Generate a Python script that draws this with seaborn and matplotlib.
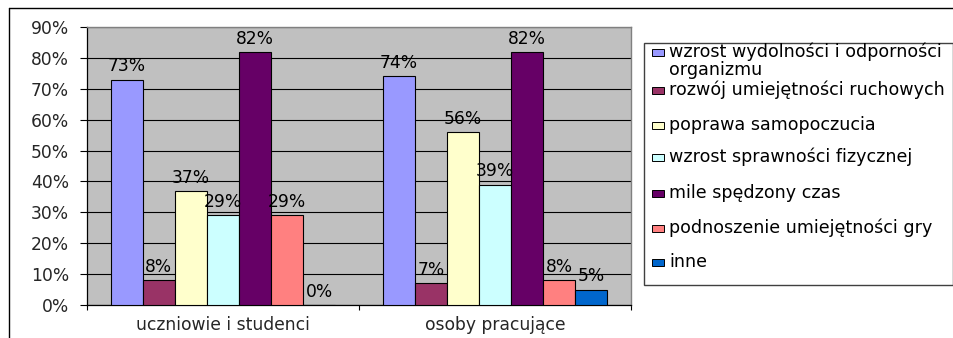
import matplotlib
matplotlib.use("Agg")
import matplotlib.pyplot as plt
from matplotlib.patches import Rectangle
from matplotlib.lines import Line2D
from matplotlib.ticker import FixedLocator, FuncFormatter
import seaborn as sns
import pandas as pd

groups = ["uczniowie i studenci", "osoby pracujące"]
series = [
    "wzrost wydolności i odporności\norganizmu",
    "rozwój umiejętności ruchowych",
    "poprawa samopoczucia",
    "wzrost sprawności fizycznej",
    "mile spędzony czas",
    "podnoszenie umiejętności gry",
    "inne",
]
students = [73, 8, 37, 29, 82, 29, 0]
workers = [74, 7, 56, 39, 82, 8, 5]
colors = ["#9999FF", "#993366", "#FFFFCC", "#CCFFFF", "#660066", "#FF8080", "#0066CC"]
yticks = [0, 10, 20, 30, 40, 50, 60, 70, 80, 90]

rows = []
for s, a, b in zip(series, students, workers):
    rows.append({"group": groups[0], "series": s, "value": a})
    rows.append({"group": groups[1], "series": s, "value": b})
df = pd.DataFrame(rows)

sns.set_style("white")
plt.rcParams["font.family"] = ["DejaVu Sans"]
FS = 12.3
FSL = 12.6

W, H = 954, 338
fig = plt.figure(figsize=(W / 100, H / 100), dpi=100)
ax = fig.add_axes([87 / W, 1 - 305 / H, (631 - 87) / W, (305 - 27) / H])
ax.set_facecolor("#C0C0C0")

sns.barplot(data=df, x="group", y="value", hue="series", hue_order=series,
            order=groups, palette=colors, saturation=1, width=0.825,
            edgecolor="black", linewidth=0.8, legend=False, ax=ax, zorder=3)

for cont, a, b in zip(ax.containers, students, workers):
    ax.bar_label(cont, labels=[f"{a}%", f"{b}%"], padding=3, fontsize=FS,
                 color="black", zorder=4)

ax.set_xlim(-0.5, 1.5)
ax.set_ylim(0, 90)
ax.yaxis.set_major_locator(FixedLocator(yticks))
ax.yaxis.set_major_formatter(FuncFormatter(lambda v, p: f"{int(v)}%"))
ax.grid(axis="y", color="black", linewidth=0.8, zorder=1)
ax.grid(axis="x", visible=False)
ax.set_axisbelow(True)
ax.set_xlabel("")
ax.set_ylabel("")

ax.tick_params(axis="y", which="major", length=5, width=0.8, direction="out",
               pad=8, labelsize=FS, color="black", left=True)
ax.tick_params(axis="x", which="major", length=0, pad=8, labelsize=FS)
ax.xaxis.set_minor_locator(FixedLocator([-0.5, 0.5, 1.5]))
ax.tick_params(axis="x", which="minor", length=3.5, width=0.8, direction="out",
               color="black", bottom=True)

for side in ["left", "bottom"]:
    ax.spines[side].set_color("black")
    ax.spines[side].set_linewidth(0.9)
for side in ["top", "right"]:
    ax.spines[side].set_color("#808080")
    ax.spines[side].set_linewidth(1.0)

# outer chart frame
fig.add_artist(Line2D([9 / W, 1], [1 - 8 / H, 1 - 8 / H], color="black", lw=1,
                      transform=fig.transFigure))
fig.add_artist(Line2D([9 / W, 9 / W], [0, 1 - 8 / H], color="black", lw=1,
                      transform=fig.transFigure))

# legend
lx0, lx1, ly0, ly1 = 644, 953, 43, 285
fig.add_artist(Rectangle((lx0 / W, 1 - ly1 / H), (lx1 - lx0) / W, (ly1 - ly0) / H,
                         transform=fig.transFigure, facecolor="white",
                         edgecolor="#404040", lw=1))
ycent = [52, 90, 125, 157, 193, 228, 262]
for lab, col, yc in zip(series, colors, ycent):
    fig.add_artist(Rectangle((652 / W, 1 - (yc + 3.5) / H), 12 / W, 7 / H,
                             transform=fig.transFigure, facecolor=col,
                             edgecolor="black", lw=0.7))
    lines = lab.split("\n")
    for i, ln in enumerate(lines):
        fig.text(669 / W, 1 - (yc + i * 18) / H, ln, fontsize=FSL,
                 va="center", ha="left", color="black")

fig.savefig("out.png", dpi=100, facecolor="white")
